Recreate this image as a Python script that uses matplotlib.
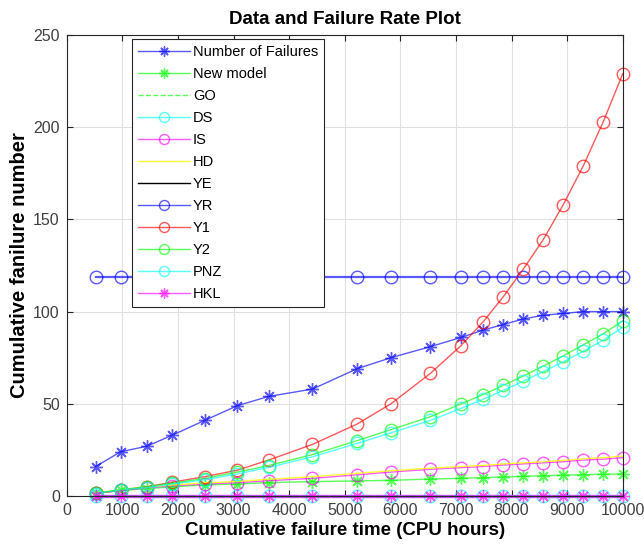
import matplotlib.pyplot as plt

plt.rcParams['font.family'] = ['Liberation Sans', 'DejaVu Sans']

# CPU time of each failure and the model curves
cpu_time = [520, 970, 1440, 1900, 2480, 3070, 3630, 4420, 5220, 5830,
            6540, 7090, 7490, 7850, 8210, 8570, 8930, 9290, 9650, 10000]
failures = [16, 24, 27, 33, 41, 49, 54, 58, 69, 75,
            81, 86, 90, 93, 96, 98, 99, 100, 100, 100]
new_model = [1.5, 3, 4, 5, 6, 6.5, 7.3, 7.8, 8.2, 8.5,
             9.2, 9.6, 10, 10.3, 10.7, 11, 11.3, 11.6, 11.8, 12]
go = [0] * 20
ds = [0] * 20
is_ = [1.5, 3, 4.5, 5.5, 6.5, 7.2, 8.3, 9.6, 11.5, 13,
       14.5, 15.4, 16, 16.8, 17.4, 18, 18.6, 19.5, 20, 20.8]
hd = [1.7, 3.3, 4.9, 6, 7.1, 7.9, 9.1, 10.5, 12.3, 13.7,
      15.1, 16, 16.6, 17.4, 18, 18.6, 19.3, 20.2, 20.8, 21.7]
ye = [0] * 20
yr = [119] * 20
y1 = [1.5, 3, 5, 7.5, 10.5, 14, 19.5, 28, 39, 50,
      66.5, 81.5, 94.5, 108, 123, 139, 158, 179, 203, 229]
y2 = [1.5, 3.5, 5, 7, 9.5, 13, 16.5, 22.5, 30, 36,
      43, 50, 55, 60, 65, 70.5, 76, 82, 88, 95]
pnz = [1.3, 3.2, 4.6, 6.5, 8.8, 12, 15.5, 21.3, 28.5, 34.3,
       41, 47.5, 52.5, 57.3, 62.2, 67.5, 72.8, 78.5, 84.5, 91.5]
hkl = [0] * 20

fig = plt.figure(figsize=(6.44, 5.52), dpi=100)
ax = fig.add_axes([0.1036, 0.1014, 0.8634, 0.8352])

a = 0.65
ms = 9
star = (8, 2, 0)  # asterisk marker
kw = dict(lw=1, ms=ms, clip_on=False)
ax.plot(cpu_time, failures, '-', marker=star, color='blue', alpha=a, mew=1, label='Number of Failures', **kw)
ax.plot(cpu_time, new_model, '-', marker=star, color='lime', alpha=a, mew=1, label='New model', **kw)
ax.plot(cpu_time, go, '--', color='lime', alpha=a, label='GO', lw=2, clip_on=False)
ax.plot(cpu_time, ds, '-o', color='cyan', alpha=a, mfc='none', label='DS',
        lw=2, ms=ms, clip_on=False)
ax.plot(cpu_time, is_, '-o', color='magenta', alpha=a, mfc='none', label='IS', **kw)
ax.plot(cpu_time, hd, '-', color='yellow', alpha=0.8, label='HD', **kw)
ax.plot(cpu_time, ye, '-', color='black', alpha=0.15, label='YE', **kw)
ax.plot(cpu_time, yr, '-o', color='blue', alpha=a, mfc='none', label='YR',
        lw=1.6, ms=ms, clip_on=False)
ax.plot(cpu_time, y1, '-o', color='red', alpha=a, mfc='none', label='Y1', **kw)
ax.plot(cpu_time, y2, '-o', color='lime', alpha=a, mfc='none', label='Y2', **kw)
ax.plot(cpu_time, pnz, '-o', color='cyan', alpha=a, mfc='none', label='PNZ', **kw)
ax.plot(cpu_time, hkl, '-', marker=star, color='magenta', alpha=a, mew=1, label='HKL',
        lw=2.5, ms=ms, clip_on=False)

ax.set_xlim(0, 10000)
ax.set_ylim(0, 250)
ax.set_xticks(range(0, 10001, 1000))
ax.set_yticks(range(0, 251, 50))
ax.grid(True, color='#e0e0e0', lw=0.8)
ax.set_axisbelow(True)
ax.tick_params(direction='in', top=True, right=True, labelsize=11.5,
               labelcolor='#404040', color='#262626', length=4, pad=5)
for s in ax.spines.values():
    s.set_color('#262626')
    s.set_linewidth(0.8)

ax.set_title('Data and Failure Rate Plot', fontsize=13.5, fontweight='bold', pad=8)
ax.set_xlabel('Cumulative failure time (CPU hours)', fontsize=13.5, fontweight='bold', labelpad=3)
ax.set_ylabel('Cumulative fanilure number', fontsize=14.5, fontweight='bold', labelpad=3)

leg = ax.legend(loc='upper left', bbox_to_anchor=(0.117, 0.991), fontsize=10.5,
                handlelength=3.6, labelspacing=0.55, borderpad=0.4, markerscale=0.8,
                handletextpad=0.2, fancybox=False, framealpha=1, borderaxespad=0)
leg.get_frame().set_edgecolor('#262626')
leg.get_frame().set_linewidth(0.8)
# thin, solid-looking handles in the legend
for h in leg.get_lines():
    h.set_linewidth(1)
    if h.get_label() == 'YE':
        h.set_alpha(1)

fig.savefig('out.png', dpi=100)
